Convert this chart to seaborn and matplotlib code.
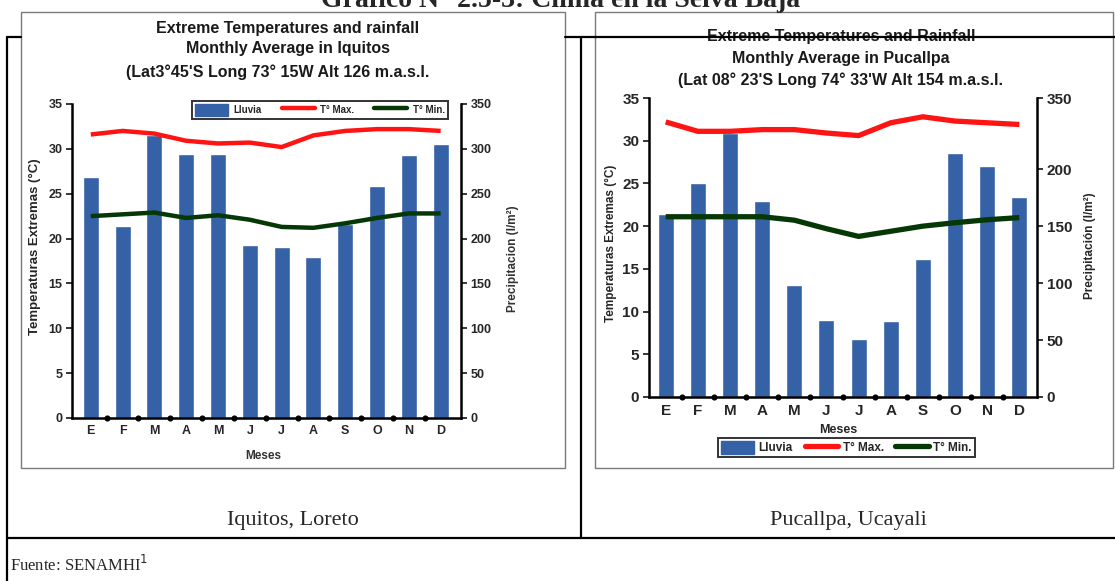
import numpy as np
import pandas as pd
import seaborn as sns
import matplotlib.pyplot as plt
from matplotlib.patches import Patch, Rectangle
from matplotlib.lines import Line2D

# datos (SENAMHI)
meses = ['Ene', 'Feb', 'Mar', 'Abr', 'May', 'Jun', 'Jul', 'Ago', 'Set', 'Oct', 'Nov', 'Dic']
letras = ['E', 'F', 'M', 'A', 'M', 'J', 'J', 'A', 'S', 'O', 'N', 'D']

iq_lluvia = [269, 214, 315, 294, 294, 193, 191, 179, 216, 259, 293, 305]
iq_tmax = [31.6, 32.0, 31.7, 30.9, 30.6, 30.7, 30.2, 31.5, 32.0, 32.2, 32.2, 32.0]
iq_tmin = [22.5, 22.7, 22.9, 22.3, 22.6, 22.1, 21.3, 21.2, 21.7, 22.3, 22.8, 22.8]

pu_lluvia = [161, 188, 232, 172, 98, 68, 51, 67, 121, 214, 203, 176]
pu_tmax = [32.2, 31.1, 31.1, 31.3, 31.3, 30.9, 30.6, 32.1, 32.8, 32.3, 32.1, 31.9]
pu_tmin = [21.1, 21.1, 21.1, 21.1, 20.7, 19.7, 18.8, 19.4, 20.0, 20.4, 20.75, 21.0]

temp_ticks = [0, 5, 10, 15, 20, 25, 30, 35]
iq_p_ticks = [0, 50, 100, 150, 200, 250, 300, 350]
pu_p_ticks = [0, 50, 100, 150, 200, 262.5]
pu_p_labels = ['0', '50', '100', '150', '200', '350']

AZUL = '#3561a6'
ROJO = '#ff1414'
VERDE = '#063806'

sns.set_style('white')
plt.rcParams['font.family'] = ['Liberation Sans', 'DejaVu Sans']

W, H = 1115, 581
fig = plt.figure(figsize=(W / 100, H / 100), dpi=100)
fig.patch.set_facecolor('white')


def fx(x):
    return x / W


def fy(y):
    return 1 - y / H


def panel(rect, xlim, lluvia, tmax, tmin, p_max, p_ticks, p_labels, fs, lw):
    ax = fig.add_axes(rect)
    ax2 = ax.twinx()
    pos = np.arange(len(meses))
    df = pd.DataFrame({'pos': pos, 'mes': meses, 'lluvia': lluvia,
                       'tmax': tmax, 'tmin': tmin})

    sns.barplot(data=df, x='pos', y='lluvia', ax=ax2, native_scale=True,
                color=AZUL, saturation=1, width=0.5)
    sns.lineplot(data=df, x='pos', y='tmax', ax=ax, color=ROJO, lw=lw,
                 solid_capstyle='butt', solid_joinstyle='round')
    sns.lineplot(data=df, x='pos', y='tmin', ax=ax, color=VERDE, lw=lw,
                 solid_capstyle='butt', solid_joinstyle='round')
    ax.plot(pos[:-1] + 0.5, np.zeros(len(pos) - 1), 'o', color='black',
            ms=3.4, clip_on=False, zorder=5)

    ax.set_zorder(ax2.get_zorder() + 1)
    ax.patch.set_visible(False)

    ax.set_xlim(*xlim)
    ax.set_ylim(0, 35)
    ax2.set_ylim(0, p_max)
    ax.set_xticks(pos)
    ax.set_xticklabels(letras, fontsize=fs, fontweight='bold')
    ax.set_yticks(temp_ticks)
    ax.set_yticklabels([str(t) for t in temp_ticks], fontsize=fs, fontweight='bold')
    ax2.set_yticks(p_ticks)
    ax2.set_yticklabels(p_labels, fontsize=fs, fontweight='bold')
    ax.tick_params(axis='x', length=0, pad=5)
    ax.tick_params(axis='y', direction='out', length=4, width=1.3, left=True, pad=3)
    ax2.tick_params(axis='y', direction='out', length=4, width=1.3, right=True, pad=3)
    ax.set_xlabel('')
    ax.set_ylabel('')
    ax2.set_xlabel('')
    ax2.set_ylabel('')

    for s in ['top', 'right']:
        ax.spines[s].set_visible(False)
    for s in ['top', 'left', 'bottom']:
        ax2.spines[s].set_visible(False)
    for s in ['left', 'bottom']:
        ax.spines[s].set_linewidth(1.8)
        ax.spines[s].set_color('black')
    ax2.spines['right'].set_linewidth(1.8)
    ax2.spines['right'].set_color('black')
    return ax


# marcos de las imagenes escaneadas
fig.patches.append(Rectangle((fx(21), fy(468)), fx(565) - fx(21), fy(12) - fy(468),
                             transform=fig.transFigure, facecolor='white',
                             edgecolor='#7a7a7a', lw=1.0, zorder=-1))
fig.patches.append(Rectangle((fx(595), fy(468)), fx(1113) - fx(595), fy(12) - fy(468),
                             transform=fig.transFigure, facecolor='white',
                             edgecolor='#7a7a7a', lw=1.0, zorder=-1))

ax_iq = panel([fx(72), fy(418), fx(461) - fx(72), fy(104) - fy(418)],
              (-0.59, 11.64), iq_lluvia, iq_tmax, iq_tmin, 350, iq_p_ticks,
              [str(t) for t in iq_p_ticks], 9, 3.2)
ax_pu = panel([fx(649), fy(397), fx(1037) - fx(649), fy(98) - fy(397)],
              (-0.52, 11.55), pu_lluvia, pu_tmax, pu_tmin, 262.5, pu_p_ticks,
              pu_p_labels, 11, 3.8)

# leyendas
def handles(lw):
    return [Patch(facecolor=AZUL, edgecolor=AZUL),
            Line2D([], [], color=ROJO, lw=lw),
            Line2D([], [], color=VERDE, lw=lw)]


nombres = ['Lluvia', 'T° Max.', 'T° Min.']
leg1 = ax_iq.legend(handles(3.2), nombres, ncol=3, loc='upper left',
                    bbox_to_anchor=(fx(192), fy(101)), bbox_transform=fig.transFigure,
                    frameon=True, fancybox=False, handlelength=3.4,
                    handleheight=1.5, columnspacing=2.0, handletextpad=0.6,
                    borderpad=0.3, borderaxespad=0,
                    prop={'weight': 'bold', 'size': 7})
leg1.get_frame().set_edgecolor('black')
leg1.get_frame().set_linewidth(1.4)

leg2 = ax_pu.legend(handles(3.8), nombres, ncol=3, loc='upper left',
                    bbox_to_anchor=(fx(718), fy(438)), bbox_transform=fig.transFigure,
                    frameon=True, fancybox=False, handlelength=2.8,
                    handleheight=1.3, columnspacing=1.0, handletextpad=0.4,
                    borderpad=0.25, borderaxespad=0,
                    prop={'weight': 'bold', 'size': 8.5})
leg2.get_frame().set_edgecolor('black')
leg2.get_frame().set_linewidth(1.4)

# textos de los graficos
t1 = ['Extreme Temperatures and rainfall', 'Monthly Average in Iquitos',
      "(Lat3°45'S Long 73° 15W Alt 126 m.a.s.l."]
for txt, x, y in zip(t1, [288, 288, 278], [28, 49, 72]):
    fig.text(fx(x), fy(y), txt, ha='center', va='center', fontsize=11.5,
             fontweight='bold', color='#1a1a1a')
t2 = ['Extreme Temperatures and Rainfall', 'Monthly Average in Pucallpa',
      "(Lat 08° 23'S Long 74° 33'W Alt 154 m.a.s.l."]
for txt, x, y in zip(t2, [841, 841, 840], [37, 58, 80]):
    fig.text(fx(x), fy(y), txt, ha='center', va='center', fontsize=11.5,
             fontweight='bold', color='#1a1a1a', zorder=1)

fig.text(fx(35), fy(247), 'Temperaturas Extremas (°C)', rotation=90, ha='center',
         va='center', fontsize=9.5, fontweight='bold')
fig.text(fx(513), fy(259), 'Precipitacion (l/m²)', rotation=90, ha='center',
         va='center', fontsize=8.5, fontweight='bold', color='#333333')
fig.text(fx(263), fy(456), 'Meses', ha='center', va='center', fontsize=8.5,
         fontweight='bold', color='#333333')

fig.text(fx(611), fy(243), 'Temperaturas Extremas (°C)', rotation=90, ha='center',
         va='center', fontsize=8.5, fontweight='bold')
fig.text(fx(1090), fy(246), 'Precipitación (l/m²)', rotation=90, ha='center',
         va='center', fontsize=8.5, fontweight='bold')
fig.text(fx(838), fy(430), 'Meses', ha='center', va='center', fontsize=9,
         fontweight='bold')

# tabla del documento
def linea(x0, y0, x1, y1):
    fig.lines.append(Line2D([fx(x0), fx(x1)], [fy(y0), fy(y1)], transform=fig.transFigure,
                            color='black', lw=1.6, zorder=10))


linea(7, 37, 21, 37)
linea(565, 37, 1115, 37)
linea(7, 37, 7, 581)
linea(581, 37, 581, 538)
linea(7, 538, 1115, 538)

fig.text(0.503, fy(7), 'Gráfico N° 2.5-3: Clima en la Selva Baja', ha='center',
         va='baseline', fontsize=20, fontweight='bold', family='Liberation Serif')
fig.text(fx(293), fy(521), 'Iquitos, Loreto', ha='center', va='center', fontsize=16,
         family='Liberation Serif')
fig.text(fx(848), fy(521), 'Pucallpa, Ucayali', ha='center', va='center', fontsize=16,
         family='Liberation Serif')
fig.text(fx(10), fy(565), 'Fuente: SENAMHI$^1$', ha='left', va='center', fontsize=12,
         family='Liberation Serif')

fig.savefig('out.png', dpi=100)
